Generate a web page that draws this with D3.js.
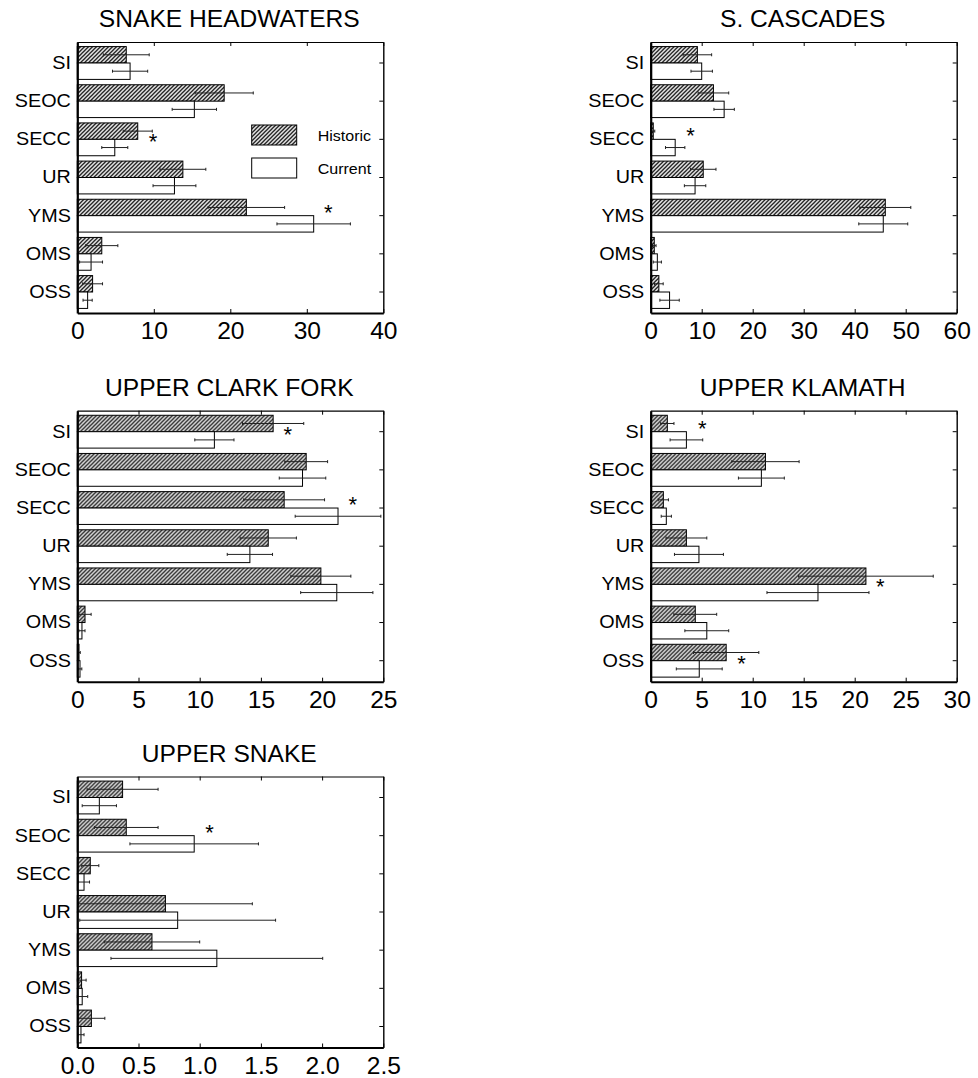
<!DOCTYPE html>
<html>
<head>
<meta charset="utf-8">
<script src="https://cdn.jsdelivr.net/npm/d3@7"></script>
<style>
  body { margin: 0; background: #fff; }
  svg { display: block; }
  text { font-family: "Liberation Sans", Arial, sans-serif; fill: #000; }
</style>
</head>
<body>
<script>
// habitat classes, top to bottom
var categories = ["SI", "SEOC", "SECC", "UR", "YMS", "OMS", "OSS"];
var series = ["Historic", "Current"];

// Snake Headwaters
var snakeHwHist   = [6.4, 19.2, 7.9, 13.8, 22.1, 3.2, 2.0];
var snakeHwHistSE = [3.0, 3.8, 1.9, 3.0, 5.0, 2.1, 1.3];
var snakeHwCur    = [6.9, 15.3, 4.9, 12.7, 30.9, 1.8, 1.35];
var snakeHwCurSE  = [2.3, 2.9, 1.7, 2.8, 4.8, 1.5, 0.6];

// S. Cascades
var cascHist   = [9.15, 12.3, 0.5, 10.3, 46.0, 0.7, 1.6];
var cascHistSE = [2.8, 3.0, 0.3, 2.5, 5.0, 0.35, 0.85];
var cascCur    = [10.0, 14.4, 4.8, 8.7, 45.6, 1.3, 3.7];
var cascCurSE  = [2.1, 2.0, 1.9, 2.1, 4.8, 0.8, 1.9];

// Upper Clark Fork
var clarkHist   = [16.0, 18.7, 16.9, 15.6, 19.9, 0.63, 0.14];
var clarkHistSE = [2.5, 1.75, 3.3, 2.3, 2.45, 0.5, 0.1];
var clarkCur    = [11.2, 18.4, 21.3, 14.1, 21.2, 0.38, 0.22];
var clarkCurSE  = [1.6, 1.9, 3.5, 1.85, 2.95, 0.25, 0.15];

// Upper Klamath
var klamHist   = [1.63, 11.25, 1.24, 3.5, 21.1, 4.37, 7.4];
var klamHistSE = [0.65, 3.3, 0.5, 2.0, 6.6, 2.1, 3.2];
var klamCur    = [3.5, 10.85, 1.53, 4.73, 16.4, 5.5, 4.76];
var klamCurSE  = [1.6, 2.25, 0.5, 2.4, 5.0, 2.15, 2.25];

// Upper Snake
var uSnakeHist   = [0.37, 0.40, 0.106, 0.72, 0.61, 0.035, 0.115];
var uSnakeHistSE = [0.29, 0.26, 0.07, 0.71, 0.39, 0.037, 0.11];
var uSnakeCur    = [0.18, 0.955, 0.055, 0.82, 1.14, 0.04, 0.03];
var uSnakeCurSE  = [0.14, 0.525, 0.045, 0.8, 0.865, 0.045, 0.025];

// x axis ticks per region
var snakeHwTicks = [0, 10, 20, 30, 40];
var cascTicks    = [0, 10, 20, 30, 40, 50, 60];
var clarkTicks   = [0, 5, 10, 15, 20, 25];
var klamTicks    = [0, 5, 10, 15, 20, 25, 30];
var uSnakeTicks  = [0, 0.5, 1.0, 1.5, 2.0, 2.5];

// significant differences: [category, value where the * sits, next to which bar]
var snakeHwStars = [["SECC", 9.9, "mid"], ["YMS", 32.8, "hist"]];
var cascStars    = [["SECC", 7.8, "hist"]];
var clarkStars   = [["SI", 17.2, "mid"], ["SECC", 22.5, "hist"]];
var klamStars    = [["SI", 5.05, "hist"], ["YMS", 22.5, "mid"], ["OSS", 8.9, "mid"]];
var uSnakeStars  = [["SEOC", 1.08, "hist"]];

var regions = [
  {name: "SNAKE HEADWATERS", hist: snakeHwHist, histSE: snakeHwHistSE, cur: snakeHwCur, curSE: snakeHwCurSE, ticks: snakeHwTicks, stars: snakeHwStars, fmt: d3.format("d"), legend: true},
  {name: "S. CASCADES", hist: cascHist, histSE: cascHistSE, cur: cascCur, curSE: cascCurSE, ticks: cascTicks, stars: cascStars, fmt: d3.format("d")},
  {name: "UPPER CLARK FORK", hist: clarkHist, histSE: clarkHistSE, cur: clarkCur, curSE: clarkCurSE, ticks: clarkTicks, stars: clarkStars, fmt: d3.format("d")},
  {name: "UPPER KLAMATH", hist: klamHist, histSE: klamHistSE, cur: klamCur, curSE: klamCurSE, ticks: klamTicks, stars: klamStars, fmt: d3.format("d")},
  {name: "UPPER SNAKE", hist: uSnakeHist, histSE: uSnakeHistSE, cur: uSnakeCur, curSE: uSnakeCurSE, ticks: uSnakeTicks, stars: uSnakeStars, fmt: d3.format(".1f")}
];

var W = 978, H = 1078;
var colX = [77.3, 650.7];
var rowY = [42, 410.7, 776.5];
var pw = 306, ph = 271;
var stretch = "scale(1.07,1)";

var svg = d3.select("body").append("svg")
  .attr("width", W)
  .attr("height", H);

// hatch for historic bars
svg.append("defs").append("pattern")
  .attr("id", "hatch")
  .attr("patternUnits", "userSpaceOnUse")
  .attr("width", 4)
  .attr("height", 4)
  .call(function(p) {
    p.append("rect").attr("width", 4).attr("height", 4).attr("fill", "#fff");
    p.append("path")
      .attr("d", "M-1,1 L1,-1 M0,4 L4,0 M3,5 L5,3")
      .attr("stroke", "#000")
      .attr("stroke-width", 1.25);
  });

regions.forEach(function(r, i) {
  var gx = colX[i % 2], gy = rowY[Math.floor(i / 2)];
  var g = svg.append("g").attr("transform", "translate(" + gx + "," + gy + ")");

  var x = d3.scaleLinear()
    .domain([0, r.ticks[r.ticks.length - 1]])
    .range([0, pw]);
  var y = d3.scaleBand()
    .domain(categories)
    .range([0, ph])
    .paddingInner(0.14)
    .paddingOuter(0.12);
  var ys = d3.scaleBand()
    .domain(series)
    .range([0, y.bandwidth()]);

  // title
  g.append("text")
    .attr("transform", "translate(" + (pw / 2 - 1) + "," + (-15) + ") " + stretch)
    .attr("text-anchor", "middle")
    .style("font-size", "23px")
    .text(r.name);

  var rows = [];
  categories.forEach(function(c, k) {
    rows.push({cat: c, s: "Historic", v: r.hist[k], se: r.histSE[k]});
    rows.push({cat: c, s: "Current", v: r.cur[k], se: r.curSE[k]});
  });

  // bars
  g.selectAll("rect.bar")
    .data(rows)
    .enter().append("rect")
    .attr("class", "bar")
    .attr("x", x(0))
    .attr("y", function(d) { return y(d.cat) + ys(d.s); })
    .attr("width", function(d) { return x(d.v) - x(0); })
    .attr("height", ys.bandwidth())
    .attr("fill", function(d) { return d.s == "Historic" ? "url(#hatch)" : "#fff"; })
    .attr("stroke", "#000")
    .attr("stroke-width", 1);

  // error bars
  var eb = g.selectAll("g.err")
    .data(rows)
    .enter().append("g")
    .attr("class", "err")
    .attr("transform", function(d) { return "translate(0," + (y(d.cat) + ys(d.s) + ys.bandwidth() / 2) + ")"; });
  eb.append("line")
    .attr("x1", function(d) { return x(Math.max(0, d.v - d.se)); })
    .attr("x2", function(d) { return x(d.v + d.se); })
    .attr("stroke", "#222").attr("stroke-width", 1);
  eb.append("line")
    .attr("x1", function(d) { return x(Math.max(0, d.v - d.se)); })
    .attr("x2", function(d) { return x(Math.max(0, d.v - d.se)); })
    .attr("y1", -1.5).attr("y2", 1.5)
    .attr("stroke", "#222").attr("stroke-width", 1);
  eb.append("line")
    .attr("x1", function(d) { return x(d.v + d.se); })
    .attr("x2", function(d) { return x(d.v + d.se); })
    .attr("y1", -1.5).attr("y2", 1.5)
    .attr("stroke", "#222").attr("stroke-width", 1);

  // stars
  g.selectAll("text.star")
    .data(r.stars)
    .enter().append("text")
    .attr("class", "star")
    .attr("x", function(d) { return x(d[1]); })
    .attr("y", function(d) {
      var c = y(d[0]) + y.bandwidth() / 2;
      return (d[2] == "hist" ? c - 6 : c) + 10;
    })
    .attr("text-anchor", "middle")
    .style("font-size", "22px")
    .text("*");

  // frame: top and right (inward ticks, no labels)
  g.append("g")
    .call(d3.axisBottom(x).tickValues(r.ticks).tickSizeInner(4).tickSizeOuter(0).tickFormat(""))
    .call(function(a) { a.select(".domain").attr("stroke-width", 1.2); });
  g.append("g")
    .attr("transform", "translate(" + pw + ",0)")
    .call(d3.axisLeft(y).tickSizeInner(4).tickSizeOuter(0).tickFormat(""))
    .call(function(a) { a.select(".domain").attr("stroke-width", 1.4); });

  // bottom axis
  var bx = g.append("g")
    .attr("transform", "translate(0," + ph + ")")
    .call(d3.axisBottom(x).tickValues(r.ticks).tickFormat(r.fmt).tickSizeInner(-4).tickSizeOuter(0).tickPadding(10));
  bx.select(".domain").attr("stroke-width", 2);
  bx.selectAll("text").style("font-size", "23px").attr("transform", stretch);

  // left axis
  var ly = g.append("g")
    .call(d3.axisLeft(y).tickSize(0).tickPadding(6));
  ly.select(".domain").attr("stroke-width", 2.2);
  ly.selectAll("text").style("font-size", "18.5px").attr("transform", stretch);

  // legend
  if (r.legend) {
    var lg = g.append("g").attr("transform", "translate(" + (251.7 - gx) + "," + (125 - gy) + ")");
    series.forEach(function(s, k) {
      lg.append("rect")
        .attr("x", 0)
        .attr("y", k * 33)
        .attr("width", 45)
        .attr("height", 20)
        .attr("fill", s == "Historic" ? "url(#hatch)" : "#fff")
        .attr("stroke", "#000");
      lg.append("text")
        .attr("transform", "translate(66," + (k * 33 + 15.5) + ") " + stretch)
        .style("font-size", "15px")
        .text(s);
    });
  }
});
</script>
</body>
</html>
